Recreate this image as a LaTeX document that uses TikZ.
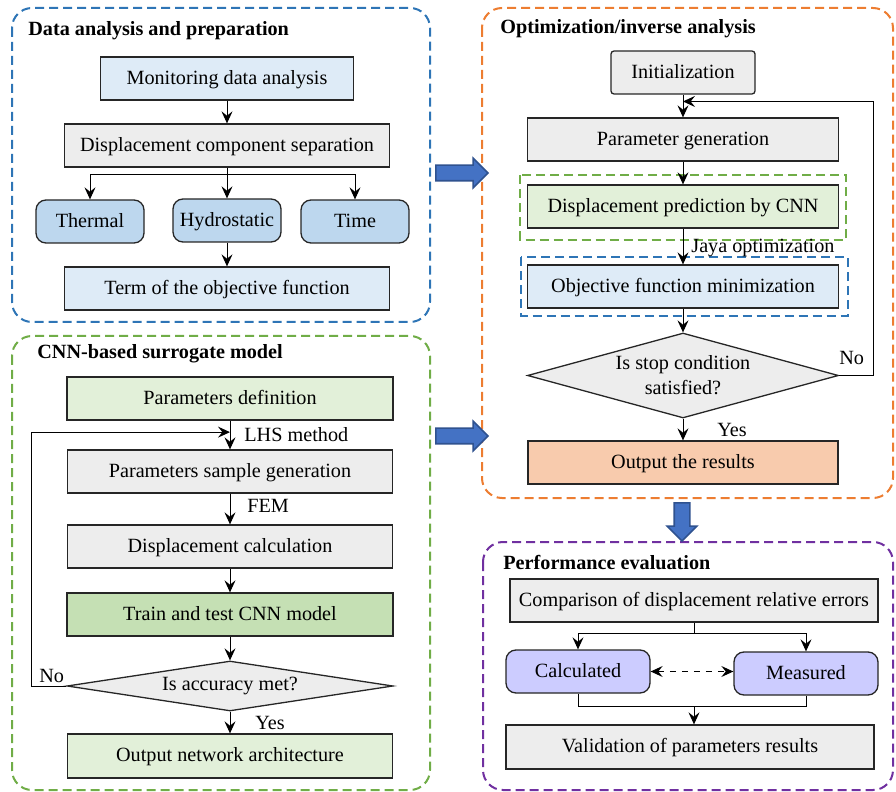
\documentclass[tikz,border=0pt]{standalone}
\usepackage{fontspec}
\setmainfont{Liberation Serif}
\usepackage{tikz}
\usetikzlibrary{calc,arrows.meta,shapes.geometric,shapes.arrows}

\definecolor{panblue}{HTML}{2E75B6}
\definecolor{pangreen}{HTML}{70AD47}
\definecolor{panorange}{HTML}{ED7D31}
\definecolor{panpurple}{HTML}{7030A0}
\definecolor{fillblue}{HTML}{DEEBF7}
\definecolor{fillgray}{HTML}{EDEDED}
\definecolor{fillsteel}{HTML}{BDD7EE}
\definecolor{fillgreen}{HTML}{E2F0D9}
\definecolor{filldgreen}{HTML}{C5E0B4}
\definecolor{fillorange}{HTML}{F8CBAD}
\definecolor{filllav}{HTML}{CCCCFF}
\definecolor{arrblue}{HTML}{4472C4}
\definecolor{arredge}{HTML}{2F528F}

\begin{document}
\begin{tikzpicture}[x=0.5pt,y=-0.5pt,
  every node/.style={font=\fontsize{10.1}{12.5}\selectfont},
  title/.style={anchor=west,inner sep=0pt,font=\fontsize{10.1}{12.5}\selectfont\bfseries},
  lbl/.style={anchor=west,inner sep=0pt},
  box/.style={draw=black!85,line width=0.65pt,inner sep=1pt,minimum height=21.5pt,
    text height=7.6pt,text depth=1.8pt},
  rbox/.style={box,rounded corners=5pt,fill=fillsteel},
  dia/.style={draw=black!85,line width=0.65pt,shape=diamond,inner sep=0pt,fill=fillgray,align=center},
  panel/.style={line width=1pt,dash pattern=on 4.5pt off 2.5pt,rounded corners=10pt},
  dbox/.style={line width=1pt,dash pattern=on 4.5pt off 2.5pt},
  line/.style={line width=0.5pt},
  tip/.tip={Stealth[length=6pt,width=5.5pt,inset=2.2pt]},
  arr/.style={line,-tip},
  darr/.style={line,tip-tip,dashed},
  bigarr/.style={shape=single arrow,draw=arredge,fill=arrblue,line width=0.8pt,
    inner sep=3.5pt,single arrow head extend=3.5pt}]

% page size of the reference
\useasboundingbox (0,0) rectangle (896,792);

% dashed panels
\draw[panel,panblue] (12,8) rectangle (430,322);
\draw[panel,pangreen] (12,336) rectangle (430,790);
\draw[panel,panorange] (482,8) rectangle (893,498);
\draw[panel,panpurple] (483,542) rectangle (893,790);

% data analysis and preparation
\node[title] (t1) at (28,31) {Data analysis and preparation};
\node[box,fill=fillblue,minimum width=126.5pt] (mon) at (227,78.5) {Monitoring data analysis};
\node[box,fill=fillgray,minimum width=162.5pt] (sep) at (227,145.5) {Displacement component separation};
\node[rbox,minimum width=54pt] (therm) at (90,221.5) {Thermal};
\node[rbox,minimum width=54pt] (hydro) at (227,220.5) {Hydrostatic};
\node[rbox,minimum width=54pt] (time) at (355,221.5) {Time};
\node[box,fill=fillblue,minimum width=162.5pt] (term) at (227,288.5) {Term of the objective function};

\coordinate (j1) at (227,175);
\draw[arr] (mon) -- (sep);
\draw[line] (sep.south) -- (j1);
\foreach \b in {therm,hydro,time}
  \draw[arr] (j1) -| (\b.north);
\draw[arr] (hydro) -- (term);

% CNN-based surrogate model
\node[title] (t2) at (37,354) {CNN-based surrogate model};
\node[box,fill=fillgreen,minimum width=163pt] (pdef) at (230,398.5) {Parameters definition};
\node[box,fill=fillgray,minimum width=162.5pt] (psam) at (230,471.5) {Parameters sample generation};
\node[box,fill=fillgray,minimum width=162.5pt] (dcal) at (230,546.5) {Displacement calculation};
\node[box,fill=filldgreen,minimum width=163pt] (train) at (230,614.5) {Train and test CNN model};
\node[dia,aspect=6.52,minimum width=163pt,minimum height=25pt] (acc) at (230,686) {Is accuracy met?};
\node[box,fill=fillgreen,minimum width=162.5pt,minimum height=22pt] (outn) at (230,756) {Output network architecture};

\draw[arr] (pdef) -- (psam);
\draw[arr] (psam) -- (dcal);
\draw[arr] (dcal) -- (train);
\draw[arr] (train) -- (acc);
\draw[arr] (acc) -- (outn);
\draw[arr] (acc.west) -- ++(-35,0) |- ($(pdef.south)!0.4!(psam.north)$);

\node[lbl] (lhs) at (244,435) {LHS method};
\node[lbl] (fem) at (247,506) {FEM};
\node[lbl] (no1) at (39,676) {No};
\node[lbl] (yes1) at (255,723) {Yes};

% optimization / inverse analysis
\node[title] (t3) at (500,29) {Optimization/inverse analysis};
\node[box,fill=fillgray,rounded corners=1.5pt,minimum width=72pt] (init) at (683,72.5) {Initialization};
\node[box,fill=fillgray,minimum width=155.5pt] (pgen) at (683,139.5) {Parameter generation};
\node[box,fill=fillgreen,minimum width=155.5pt] (dpred) at (683,206.5) {Displacement prediction by CNN};
\node[box,fill=fillblue,minimum width=155.5pt] (objf) at (683,286.5) {Objective function minimization};
\node[dia,aspect=3.66,minimum width=155.5pt,minimum height=42.5pt] (stop) at (683,375.5) {Is stop condition\\satisfied?};
\node[box,fill=fillorange,minimum width=155pt] (outr) at (683,462.5) {Output the results};

% dashed frames round the two inner boxes
\draw[dbox,pangreen] ($(dpred.north west)+(-7,-9)$) rectangle ($(dpred.south east)+(7,11)$);
\draw[dbox,panblue] ($(objf.north west)+(-6,-7)$) rectangle ($(objf.south east)+(9,7)$);

\draw[arr] (init) -- (pgen);
\draw[arr] (pgen) -- (dpred);
\draw[arr] (dpred) -- (objf);
\draw[arr] (objf) -- (stop);
\draw[arr] (stop) -- (outr);
\draw[arr] (stop.east) -- ++(34,0) |- ($(init.south)!0.3!(pgen.north)$);

\node[lbl] (jaya) at (691,248) {Jaya optimization};
\node[lbl] (no2) at (839,358) {No};
\node[lbl] (yes2) at (717,430) {Yes};

% performance evaluation
\node[title] (t4) at (503,563) {Performance evaluation};
\node[box,fill=fillgray,minimum width=184pt] (comp) at (694,600.5) {Comparison of displacement relative errors};
\node[rbox,fill=filllav,minimum width=72pt] (calcd) at (578,671.5) {Calculated};
\node[rbox,fill=filllav,minimum width=72pt] (meas) at (806,673.5) {Measured};
\node[box,fill=fillgray,minimum width=184pt,minimum height=22pt] (valid) at (690,747) {Validation of parameters results};

\coordinate (j3) at (694,633);
\coordinate (j4) at (694,706);
\draw[line] (comp.south) -- (j3);
\draw[arr] (j3) -| (calcd.north);
\draw[arr] (j3) -| (meas.north);
\draw[darr] (calcd.east) -- (calcd.east -| meas.west);
\draw[line] (calcd.south) |- (meas.south |- j4) -- (meas.south);
\draw[arr] (j4) -- (j4 |- valid.north);

% block arrows between panels
\node[bigarr,minimum height=26pt] (a1) at (458,173) {};
\node[bigarr,minimum height=26pt] (a2) at (458,436) {};
\node[bigarr,minimum height=19pt,rotate=-90] (a3) at (682,518) {};

\end{tikzpicture}
\end{document}
